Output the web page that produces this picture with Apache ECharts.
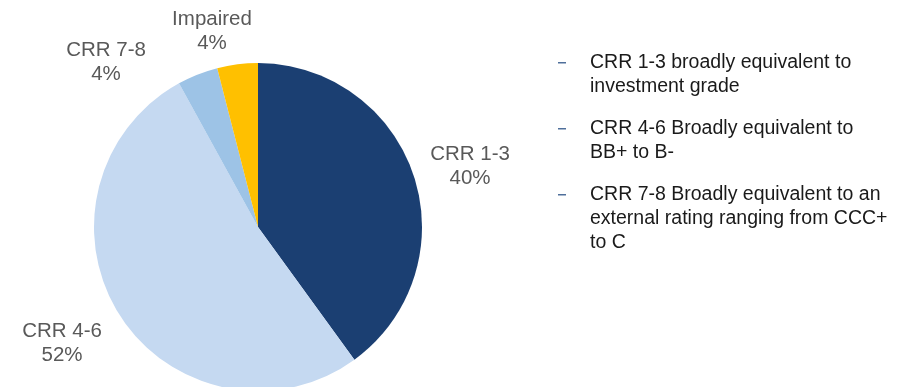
<!DOCTYPE html>
<html>
<head>
<meta charset="utf-8">
<script src="https://cdn.jsdelivr.net/npm/echarts@6/dist/echarts.min.js"></script>
<style>
  html, body { margin: 0; padding: 0; background: #ffffff; }
  #chart { width: 906px; height: 387px; }
</style>
</head>
<body>
<div id="chart"></div>
<script>
// Portfolio split by customer risk rating
const categories = ['CRR 1-3', 'CRR 4-6', 'CRR 7-8', 'Impaired'];
const shares = [40, 52, 4, 4];
const sliceColors = ['#1B3F72', '#C5D9F1', '#9DC3E6', '#FFC000'];

// Explanatory notes shown beside the pie (one entry per bullet, one string per line)
const notes = [
  ['CRR 1-3 broadly equivalent to', 'investment grade'],
  ['CRR 4-6 Broadly equivalent to', 'BB+ to B-'],
  ['CRR 7-8 Broadly equivalent to an', 'external rating ranging from CCC+', 'to C']
];

// Label anchor points (centre of the two-line label) per category
const labelAnchors = {
  'CRR 1-3': [470, 166],
  'CRR 4-6': [62, 343],
  'CRR 7-8': [106, 62],
  'Impaired': [212, 31]
};

const FONT = '"Liberation Sans", Arial, sans-serif';
const chart = echarts.init(document.getElementById('chart'), null, { renderer: 'canvas' });

const noteGraphics = [];
let y = 62;
notes.forEach(lines => {
  noteGraphics.push({
    type: 'rect',
    shape: { x: 558, y: y, width: 8, height: 1.5 },
    style: { fill: '#4F6F9B' }
  });
  lines.forEach((line, i) => {
    noteGraphics.push({
      type: 'text', x: 590, y: y + i * 24 + 1,
      style: { text: line, fill: '#1A1A1A', font: '19.5px ' + FONT, verticalAlign: 'middle', align: 'left' }
    });
  });
  y += lines.length * 24 + 18;
});

chart.setOption({
  animation: false,
  backgroundColor: '#ffffff',
  graphic: noteGraphics,
  series: [{
    type: 'pie',
    center: [258, 227],
    radius: [0, 164],
    startAngle: 90,
    clockwise: true,
    avoidLabelOverlap: false,
    data: categories.map((c, i) => ({ name: c, value: shares[i], itemStyle: { color: sliceColors[i] } })),
    itemStyle: { borderWidth: 0 },
    label: {
      show: true,
      position: 'outside',
      formatter: p => p.name + '\n' + Math.round(p.value) + '%',
      color: '#595959',
      fontFamily: FONT,
      fontSize: 20.5,
      lineHeight: 24,
      align: 'center'
    },
    labelLine: { show: false },
    labelLayout: params => {
      const a = labelAnchors[categories[params.dataIndex]];
      return { x: a[0], y: a[1], align: 'center', verticalAlign: 'middle' };
    },
    emphasis: { disabled: true }
  }]
});
</script>
</body>
</html>
